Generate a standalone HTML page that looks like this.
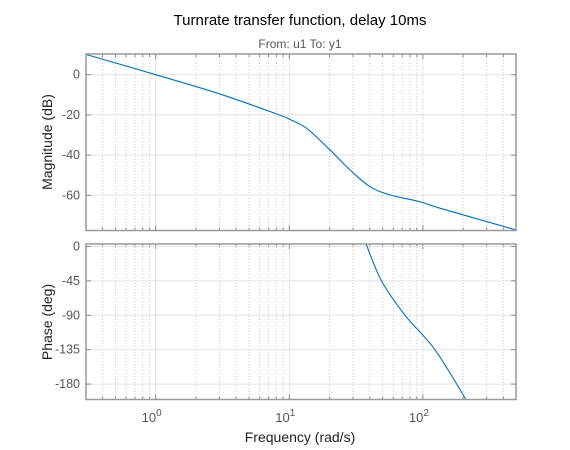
<!DOCTYPE html>
<html><head><meta charset="utf-8"><style>
body{margin:0;background:#fff;}
svg{display:block;font-family:"Liberation Sans",sans-serif;}
</style></head><body>
<svg id="chart" width="570" height="450">
<text x="300" y="25" text-anchor="middle" font-size="15" fill="#000">Turnrate transfer function, delay 10ms</text>
<text x="300" y="48" text-anchor="middle" font-size="12" fill="#555">From: u1  To: y1</text>
<g id="mag"></g>
<g id="ph"></g>
<text x="300" y="442" text-anchor="middle" font-size="14" fill="#222">Frequency  (rad/s)</text>
<text transform="translate(52,142) rotate(-90)" text-anchor="middle" font-size="14" fill="#222">Magnitude (dB)</text>
<text transform="translate(52,322) rotate(-90)" text-anchor="middle" font-size="14" fill="#222">Phase (deg)</text>
</svg>
<script>
const magFreq=[0.304,1,3,8.5,10,13.5,20.2,28.5,40.2,56.7,95,134,514];
const magDb=[10,0,-9.5,-20.1,-22.1,-26.7,-37.5,-47.4,-55.7,-59.8,-63.2,-66.4,-77.5];
const phFreq=[37.5,49,73.5,123,210];
const phDeg=[3.6,-45,-90,-135,-200];
const magTicks=[0,-20,-40,-60];
const phTicks=[0,-45,-90,-135,-180];
const xDecades=[0,1,2];

const NS="http://www.w3.org/2000/svg";
const X0=86,X1=516;
const lx=v=>155.7+(Math.log10(v))*133.6;
function mk(t,a,p){const e=document.createElementNS(NS,t);for(const k in a)e.setAttribute(k,a[k]);p.appendChild(e);return e;}
function smooth(pts){let d='M'+pts[0][0].toFixed(2)+','+pts[0][1].toFixed(2);
  for(let i=0;i<pts.length-1;i++){const p0=pts[Math.max(0,i-1)],p1=pts[i],p2=pts[i+1],p3=pts[Math.min(pts.length-1,i+2)];
    const c1=[p1[0]+(p2[0]-p0[0])/6,p1[1]+(p2[1]-p0[1])/6],c2=[p2[0]-(p3[0]-p1[0])/6,p2[1]-(p3[1]-p1[1])/6];
    d+='C'+c1.map(v=>v.toFixed(2)).join(',')+' '+c2.map(v=>v.toFixed(2)).join(',')+' '+p2[0].toFixed(2)+','+p2[1].toFixed(2);}
  return d;}
function axes(g,top,bot,y,ticks,name,fdata,vdata,showX){
  for(let d=-1;d<=2;d++)for(let m=2;m<=9;m++){const x=lx(m*Math.pow(10,d));if(x<=X0||x>=X1)continue;
    const l=mk('line',{x1:x,x2:x,y1:top,y2:bot,stroke:'#c8c8c8','stroke-dasharray':'1,2','stroke-width':1},g);
    
    mk('line',{x1:x,x2:x,y1:bot,y2:bot-3,stroke:'#888'},g);mk('line',{x1:x,x2:x,y1:top,y2:top+3,stroke:'#888'},g);}
  xDecades.forEach(d=>{const x=lx(Math.pow(10,d));
    const l=mk('line',{x1:x,x2:x,y1:top,y2:bot,stroke:'#e2e2e2'},g);
    
    mk('line',{x1:x,x2:x,y1:bot,y2:bot-5,stroke:'#888'},g);mk('line',{x1:x,x2:x,y1:top,y2:top+5,stroke:'#888'},g);
    if(showX){const t=mk('text',{x:x-4,y:422,'text-anchor':'middle','font-size':13,fill:'#555'},g);
      t.textContent='10';const s=mk('tspan',{dy:-6,'font-size':10},t);s.textContent=d;
      }
  });
  ticks.forEach(v=>{const yy=y(v);
    const l=mk('line',{x1:X0,x2:X1,y1:yy,y2:yy,stroke:'#e2e2e2'},g);
    
    mk('line',{x1:X0,x2:X0+5,y1:yy,y2:yy,stroke:'#888'},g);mk('line',{x1:X1,x2:X1-5,y1:yy,y2:yy,stroke:'#888'},g);
    const t=mk('text',{x:80,y:yy+4,'text-anchor':'end','font-size':12.5,fill:'#555'},g);t.textContent=v;
    });
  const cp='clip-'+name;const c=mk('clipPath',{id:cp},g);mk('rect',{x:X0,y:top,width:X1-X0,height:bot-top},c);
  const pts=fdata.map((f,i)=>[lx(f),y(vdata[i])]);
  const p=mk('path',{d:smooth(pts),fill:'none',stroke:'#0072bd','stroke-width':1.1,'stroke-linejoin':'round','clip-path':'url(#'+cp+')'},g);
  
  const b=mk('rect',{x:X0,y:top,width:X1-X0,height:bot-top,fill:'none',stroke:'#999','stroke-width':1.5},g);
  
}
axes(document.getElementById('mag'),54,230.5,v=>74.7-v*40.2/20,magTicks,'magnitude',magFreq,magDb,false);
axes(document.getElementById('ph'),244,399.5,v=>246.5-v*34.4/45,phTicks,'phase',phFreq,phDeg,true);
</script>
</body></html>
